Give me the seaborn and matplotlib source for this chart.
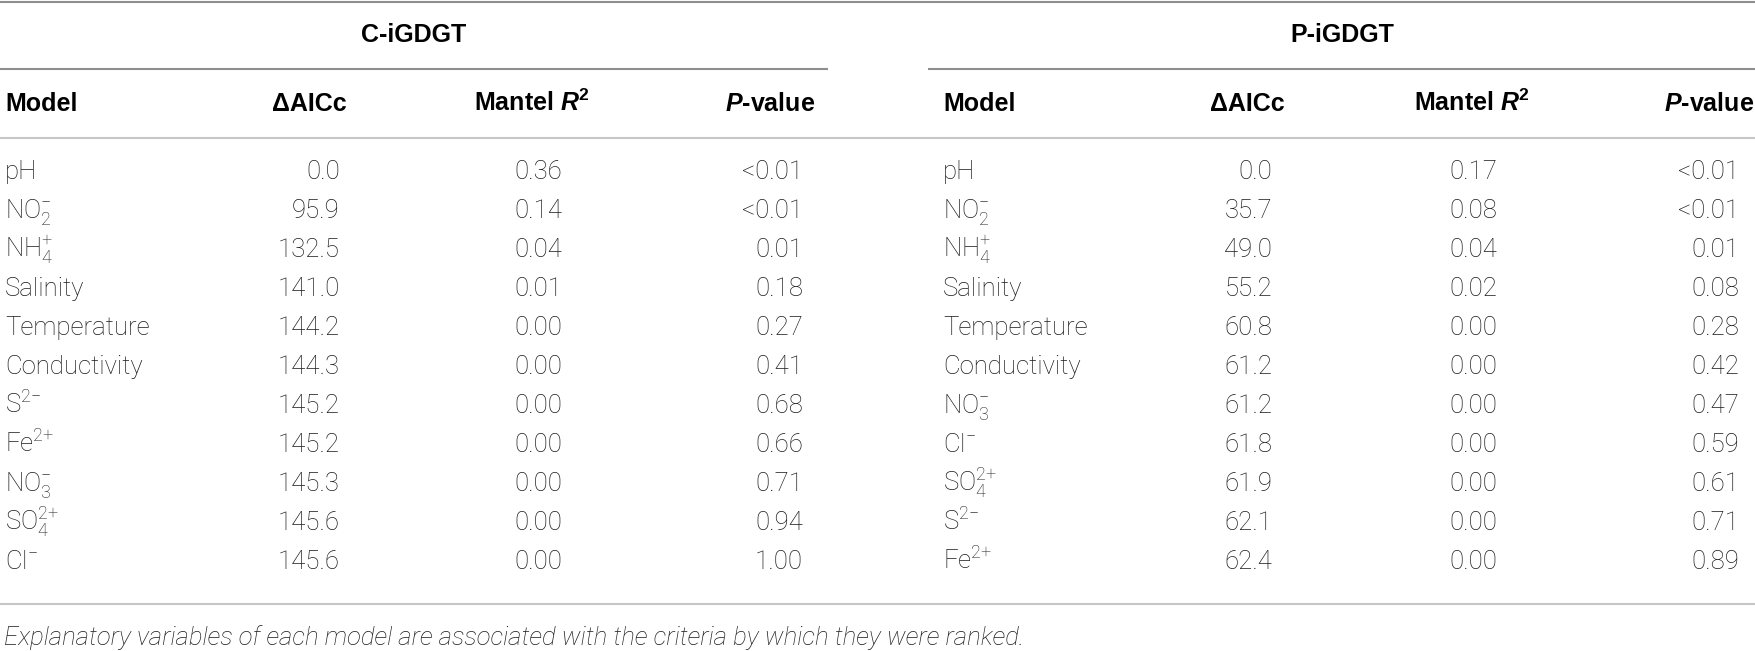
import numpy as np
import pandas as pd
import matplotlib
matplotlib.use('Agg')
import matplotlib.pyplot as plt
from matplotlib import font_manager as fm
import seaborn as sns

# table content
groups = ['C-iGDGT', 'P-iGDGT']
columns = ['Model', '\u0394AICc', r'Mantel $\mathbfit{R}^{\mathbf{2}}$', r'$\mathbfit{P}$-value']

c_models = ['pH', 'NO$_2^{\u2212}$', 'NH$_4^{+}$', 'Salinity', 'Temperature', 'Conductivity',
            'S$^{2{\u2212}}$', 'Fe$^{2{+}}$', 'NO$_3^{\u2212}$', 'SO$_4^{2{+}}$', 'Cl$^{\u2212}$']
c_aicc = [0.0, 95.9, 132.5, 141.0, 144.2, 144.3, 145.2, 145.2, 145.3, 145.6, 145.6]
c_r2 = [0.36, 0.14, 0.04, 0.01, 0.00, 0.00, 0.00, 0.00, 0.00, 0.00, 0.00]
c_p = ['<0.01', '<0.01', '0.01', '0.18', '0.27', '0.41', '0.68', '0.66', '0.71', '0.94', '1.00']

p_models = ['pH', 'NO$_2^{\u2212}$', 'NH$_4^{+}$', 'Salinity', 'Temperature', 'Conductivity',
            'NO$_3^{\u2212}$', 'Cl$^{\u2212}$', 'SO$_4^{2{+}}$', 'S$^{2{\u2212}}$', 'Fe$^{2{+}}$']
p_aicc = [0.0, 35.7, 49.0, 55.2, 60.8, 61.2, 61.2, 61.8, 61.9, 62.1, 62.4]
p_r2 = [0.17, 0.08, 0.04, 0.02, 0.00, 0.00, 0.00, 0.00, 0.00, 0.00, 0.00]
p_p = ['<0.01', '<0.01', '0.01', '0.08', '0.28', '0.42', '0.47', '0.59', '0.61', '0.71', '0.89']

caption = ('Explanatory variables of each model are associated with the criteria '
           'by which they were ranked.')

sns.set_theme(style='white')

# pick a light face for the body if there is one
fonts = [(f.name, f.weight, f.style) for f in fm.fontManager.ttflist]
body, body_w = 'Liberation Sans', 'normal'
for fam in ['Roboto', 'Lato', 'Open Sans']:
    if any(n == fam and w in (300, 'light') and s == 'normal' for n, w, s in fonts):
        body, body_w = fam, 'light'
        break
head = 'Liberation Sans'

plt.rcParams['font.family'] = [body, 'DejaVu Sans']
plt.rcParams['mathtext.fontset'] = 'custom'
plt.rcParams['mathtext.rm'] = body + (':light' if body_w == 'light' else '')
plt.rcParams['mathtext.it'] = body + ':italic'
plt.rcParams['mathtext.bf'] = head + ':bold'
try:
    plt.rcParams['mathtext.bfit'] = head + ':bold:italic'
except KeyError:
    pass

ink = '#1c1a1b'
W, H = 1755, 651
fig = plt.figure(figsize=(W / 100, H / 100), dpi=100)
ax = fig.add_axes([0, 0, 1, 1])
ax.set_xlim(0, W)
ax.set_ylim(H, 0)
ax.axis('off')

body_kw = dict(fontsize=18.5, family=[body, 'DejaVu Sans'], weight=body_w, color=ink, va='baseline')
head_kw = dict(fontsize=18, family=[head, 'DejaVu Sans'], weight='bold', color='black', va='baseline')

# rules
dark, light = '#8e8e8e', '#c6c6c6'
lw = 1.5
ax.plot([0, W], [1.5, 1.5], color=dark, lw=lw, solid_capstyle='butt')
ax.plot([0, 828], [69, 69], color=dark, lw=lw, solid_capstyle='butt')
ax.plot([928, W], [69, 69], color=dark, lw=lw, solid_capstyle='butt')
ax.plot([0, W], [138, 138], color=light, lw=lw, solid_capstyle='butt')
ax.plot([0, W], [604, 604], color=light, lw=lw, solid_capstyle='butt')

# column anchors per block: model left, aicc right, r2 centre, p right
blocks = [
    dict(group_x=414, model=5, aicc=(347, 340), r2=(532, 538), p=(815, 803),
         models=c_models, aicc_v=c_aicc, r2_v=c_r2, p_v=c_p),
    dict(group_x=1342, model=943, aicc=(1285, 1272), r2=(1472, 1473), p=(1754, 1739),
         models=p_models, aicc_v=p_aicc, r2_v=p_r2, p_v=p_p),
]

y_group, y_head, y0, dy = 42, 111, 179, 39

for g, b in zip(groups, blocks):
    ax.text(b['group_x'], y_group, g, ha='center', **head_kw)
    ax.text(b['model'], y_head, columns[0], ha='left', **head_kw)
    ax.text(b['aicc'][0], y_head, columns[1], ha='right', **head_kw)
    ax.text(b['r2'][0], y_head, columns[2], ha='center', **head_kw)
    ax.text(b['p'][0], y_head, columns[3], ha='right', **head_kw)
    df = pd.DataFrame({'model': b['models'], 'aicc': b['aicc_v'],
                       'r2': b['r2_v'], 'p': b['p_v']})
    for i, row in df.iterrows():
        y = y0 + dy * i
        ax.text(b['model'], y, row['model'], ha='left', **body_kw)
        ax.text(b['aicc'][1], y, f"{row['aicc']:.1f}", ha='right', **body_kw)
        ax.text(b['r2'][1], y, f"{row['r2']:.2f}", ha='center', **body_kw)
        ax.text(b['p'][1], y, row['p'], ha='right', **body_kw)

ax.text(4, 645, caption, ha='left', fontsize=18.5, style='italic',
        family=[body, 'DejaVu Sans'], weight=body_w, color=ink, va='baseline')

fig.savefig('out.png', dpi=100)
